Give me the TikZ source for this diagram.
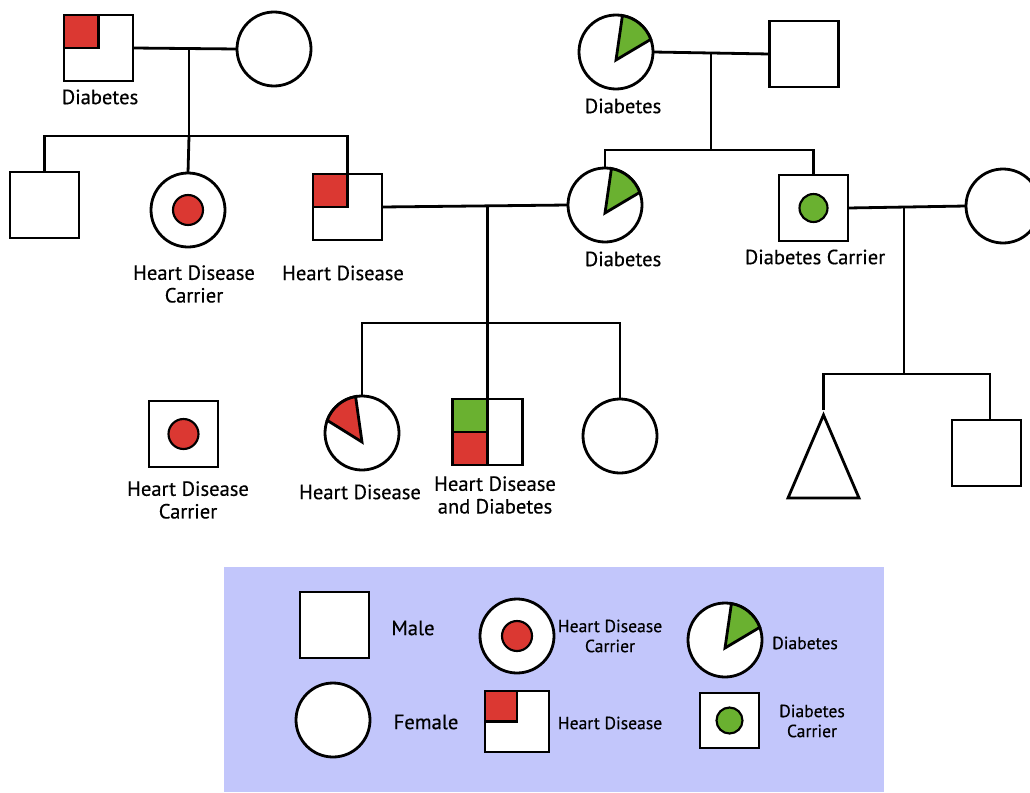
\documentclass[tikz,border=0pt]{standalone}
\usepackage{fontspec}
\setmainfont{PT Sans}[FakeBold=0.4]
\usetikzlibrary{calc}
\definecolor{hred}{HTML}{DB3832}
\definecolor{dgreen}{HTML}{6AB130}
\definecolor{legbg}{HTML}{C2C6FB}
\begin{document}
\begin{tikzpicture}[x=0.75pt,y=-0.75pt, line width=2.1pt,
  male/.style={draw, fill=white, rectangle, minimum width=51.75pt, minimum height=49.5pt, inner sep=0, outer sep=0},
  female/.style={draw, fill=white, circle, minimum size=55.5pt, inner sep=0, outer sep=0},
  dotm/.style={draw, circle, minimum size=22.5pt, inner sep=0, line width=1.6pt},
  lbl/.style={font=\fontsize{15.4}{17}\selectfont, align=center, inner sep=0},
  leg/.style={font=\fontsize{13.2}{15}\selectfont, align=center, inner sep=0},
  legbig/.style={font=\fontsize{15.5}{17}\selectfont, align=center, inner sep=0}]
\useasboundingbox (0,0) rectangle (1030,792);
\clip (0,0) rectangle (1030,792);

% ---------- generation 1 (left)
\node[male] (gf) at (98.5,48) {};
\draw[fill=hred] (gf.north west) rectangle (gf.center);
\node[lbl] (gfl) at (100,97) {Diabetes};
\node[female] (gm) at (274,49) {};
\coordinate (m1) at (189,48);
\coordinate (s1) at (189,136);
\draw (gf.east) -- (gm.west);
\draw (m1) -- (s1);

% ---------- generation 1 (right)
\node[female] (tgm) at (616,52) {};
\draw[fill=dgreen] ($(tgm.center)+(0,8)$) -- ($(tgm.center)+(80:27.75pt)$) arc[start angle=80, end angle=20, radius=27.75pt] -- cycle;
\node[lbl] (tgml) at (623,106) {Diabetes};
\node[male] (tgf) at (804,54) {};
\coordinate (m3) at (711,53);
\coordinate (s3) at (711,150);
\draw (tgm.east) -- (tgf.west);
\draw (m3) -- (s3);

% ---------- generation 2
\node[male] (c1) at (44.5,205) {};
\node[female] (c2) at (188,210) {};
\node[dotm, fill=hred] (c2d) at (188,210) {};
\node[lbl] (c2l) at (194,284) {Heart Disease\\Carrier};
\node[male] (fa) at (347.5,207) {};
\draw[fill=hred] (fa.north west) rectangle (fa.center);
\node[lbl] (fal) at (343,273) {Heart Disease};
\draw (c1.north) -- (c1.north |- s1) -- (fa.north |- s1) -- (fa.north);
\draw (s1) -- (c2.north);

\node[female] (mo) at (605,205) {};
\draw[fill=dgreen] ($(mo.center)+(0,8)$) -- ($(mo.center)+(80:27.75pt)$) arc[start angle=80, end angle=20, radius=27.75pt] -- cycle;
\node[lbl] (mol) at (623,259) {Diabetes};
\node[male] (dc) at (813.5,208) {};
\node[dotm, fill=dgreen, minimum size=21pt] (dcd) at (813.5,208) {};
\node[lbl] (dcl) at (815,257) {Diabetes Carrier};
\draw (mo.north) -- (mo.north |- s3) -- (dc.north |- s3) -- (dc.north);

\node[female] (wi) at (1003,206) {};
\draw (dc.east) -- (wi.west);
\coordinate (m4) at (904,208);
\coordinate (s4) at (904,374);
\draw (m4) -- (s4);

\draw (fa.east) -- (mo.west);
\coordinate (m2) at (487.5,206);
\coordinate (s2) at (487.5,323);
\draw (m2) -- (s2);

% ---------- generation 3
\node[male] (sa) at (183.5,434) {};
\node[dotm, fill=hred] (sad) at (183.5,434) {};
\node[lbl] (sal) at (188,500) {Heart Disease\\Carrier};

\node[female] (hd) at (362,433) {};
\draw[fill=hred] ($(hd.center)+(0,9)$) -- ($(hd.center)+(100:27.75pt)$) arc[start angle=100, end angle=160, radius=27.75pt] -- cycle;
\node[lbl] (hdl) at (360,492) {Heart Disease};

\node[male, minimum width=52.5pt] (hdd) at (487.5,432) {};
\draw[fill=dgreen] (hdd.north west) rectangle (hdd.center);
\draw[fill=hred] (hdd.west) rectangle (hdd.south);
\node[lbl] (hddl) at (495,495) {Heart Disease\\and Diabetes};

\node[female] (rc) at (620,436) {};
\draw (hd.north) -- (hd.north |- s2) -- (rc.north |- s2) -- (rc.north);
\draw (s2) -- (hdd.north);

\coordinate (tri) at (823.5,410);
\draw[fill=white] (823.5,415) -- (859,498) -- (788,498) -- cycle;
\node[male] (rs) at (986.5,453) {};
\draw (tri) -- (tri |- s4) -- ($(rs.north |- s4)+(3.5,0)$) -- ($(rs.north)+(3.5,0)$);

% ---------- legend
\fill[legbg] (224,567) rectangle (884,792);
\node[male] (lm) at (334.5,625) {};
\node[legbig] (lml) at (413,628) {Male};
\node[female] (lf) at (333,720) {};
\node[legbig] (lfl) at (426,722) {Female};
\node[female] (lhc) at (517,636) {};
\node[dotm, fill=hred] (lhcd) at (517,636) {};
\node[leg] (lhcl) at (610,636) {Heart Disease\\Carrier};
\node[male, minimum width=48pt, minimum height=45.75pt] (lhd) at (517,721.5) {};
\draw[fill=hred] (lhd.north west) rectangle (lhd.center);
\node[leg] (lhdl) at (610,723) {Heart Disease};
\node[female] (ld) at (725,640) {};
\draw[fill=dgreen] ($(ld.center)+(0,8)$) -- ($(ld.center)+(80:27.75pt)$) arc[start angle=80, end angle=20, radius=27.75pt] -- cycle;
\node[leg] (ldl) at (805,643) {Diabetes};
\node[male, minimum width=44.25pt, minimum height=41.25pt] (ldc) at (729.5,720.5) {};
\node[dotm, fill=dgreen, minimum size=19.5pt] (ldcd) at (729.5,720.5) {};
\node[leg] (ldcl) at (812,721) {Diabetes\\Carrier};
\end{tikzpicture}
\end{document}
